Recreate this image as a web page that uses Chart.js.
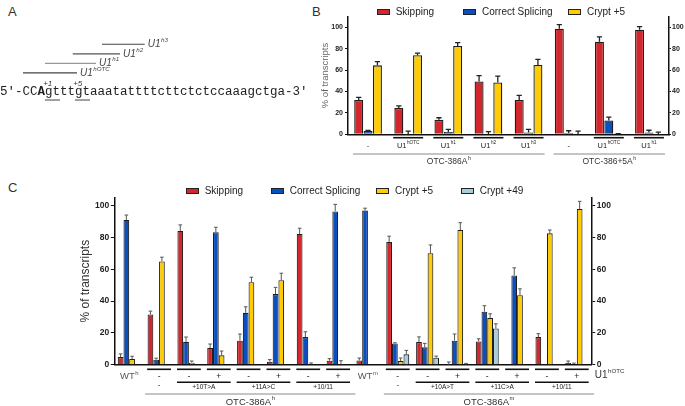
<!DOCTYPE html>
<html><head><meta charset="utf-8">
<script src="https://cdn.jsdelivr.net/npm/chart.js@4.4.1/dist/chart.umd.min.js"></script>
<style>
html,body{margin:0;padding:0;background:#fff}
body{position:relative;width:685px;height:406px;overflow:hidden;font-family:"Liberation Sans",Arial,sans-serif}
canvas{position:absolute}
.pl{position:absolute;font-size:13px;color:#333;line-height:1}
.lg{position:absolute;display:flex;align-items:center;font-size:10px;color:#222;white-space:nowrap;line-height:1}
.lg i{display:inline-block;box-sizing:border-box;border:1px solid #222;margin-right:6px;width:13px;height:6px}
</style></head><body>
<div class="pl" style="left:8px;top:5px">A</div>
<div class="pl" style="left:312px;top:5px">B</div>
<div class="pl" style="left:8px;top:181px">C</div>
<canvas id="cA" width="330" height="80" style="left:0;top:30px"></canvas>
<canvas id="cB" width="385" height="172" style="left:300px;top:0"></canvas>
<canvas id="cC" width="625" height="226" style="left:60px;top:180px"></canvas>
<script>
// ---------- DATA ----------
// Panel A
const sequence = Array.from('5′-CCAgtttgtaaatattttcttctctccaaagctga-3′');
const boldIndex = 5;
const siteLabels = ['+1', '+5'];
const siteChars = [6, 10];
const u1Names = ['U1^hOTC', 'U1^h1', 'U1^h2', 'U1^h3'];
const u1Start = [3.07, 6.0, 9.7, 13.6];
const u1End = [10.27, 12.8, 16.0, 19.3];

// Series
const seriesNames = ['Skipping', 'Correct Splicing', 'Crypt +5', 'Crypt +49'];
const seriesColors = ['#d3262d', '#0b4fbf', '#ffcb05', '#a6cfdc'];

// Panel B
const bCategories = ['-', 'U1^hOTC', 'U1^h1', 'U1^h2', 'U1^h3', '-', 'U1^hOTC', 'U1^h1'];
const bUnderlined = [false, true, true, true, true, false, true, true];
const bConstructs = ['OTC-386A^h', 'OTC-386+5A^h'];
const bConstructSpans = [[0, 4], [5, 7]];
const bSkipping = [32, 24.5, 13.5, 49.5, 32, 98.7, 86.5, 97.8];
const bSkippingErr = [2.5, 2, 2, 5.3, 4.4, 3.8, 4.7, 3];
const bCorrect = [3.1, 0, 2.2, 0, 1.6, 1.3, 12.9, 1.6];
const bCorrectErr = [0.6, 3, 2.5, 2.5, 3, 2, 3.2, 2.2];
const bCrypt5 = [64.5, 74, 82.7, 48.4, 64.8, 0, 0.3, 0];
const bCrypt5Err = [3.5, 2, 3, 6, 5.3, 3, 0.3, 2];
const bTicks = [0, 20, 40, 60, 80, 100];

// Panel C
const cRow1 = ['WT^h', '-', '-', '+', '-', '+', '-', '+', 'WT^m', '-', '-', '+', '-', '+', '-', '+'];
const cMutLabels = ['-', '+10T>A', '+11A>C', '+10/11', '-', '+10A>T', '+11C>A', '+10/11'];
const cMutSpans = [[1, 1], [2, 3], [4, 5], [6, 7], [9, 9], [10, 11], [12, 13], [14, 15]];
const cConstructs = ['OTC-386A^h', 'OTC-386A^m'];
const cConstructSpans = [[1, 7], [9, 15]];
const cRowTitle = 'U1^hOTC';
const cSkipping = [4.8, 31.6, 84.1, 10.5, 15.1, 1.9, 82.2, 2.5, 2.7, 77.2, 14.2, 0, 14.6, 0, 17.4, 1];
const cSkippingErr = [2, 2.1, 3.8, 2.5, 4.2, 1.3, 3.6, 1.3, 1.5, 3.6, 3.3, 1.7, 1.7, 0, 2.1, 1.3];
const cCorrect = [91, 3.1, 14.4, 83.3, 32.6, 44.4, 17.4, 96.4, 96.9, 13.4, 10.9, 15.1, 33.3, 56.1, 0, 0.5];
const cCorrectErr = [3.1, 1, 3, 3.1, 3.8, 4.2, 3.3, 4.4, 1.5, 0.4, 2.5, 4.2, 3.8, 4.8, 0, 0.5];
const cCrypt5 = [3.6, 64.9, 1.3, 5.9, 51.9, 53.1, 0.3, 0.5, 0, 2.3, 70.1, 84.7, 29.3, 43.7, 82.6, 97.9];
const cCrypt5Err = [1.7, 2.7, 1, 2.7, 3.1, 4.4, 0.8, 2, 0, 1.9, 5.2, 4.6, 2.7, 4, 2.1, 4.8];
const cCrypt49 = [0, 0, 0, 0, 0, 0, 0, 0, 0, 6.5, 4.4, 0, 22.8, 0, 0, 0.2];
const cCrypt49Err = [0, 0, 0, 0, 0, 0, 0, 0, 0, 2.5, 1, 0.8, 2.9, 0, 0, 0];
const cTicks = [0, 20, 40, 60, 80, 100];

// ---------- HELPERS ----------
const FAM = '"Liberation Sans", Arial, sans-serif';
Chart.defaults.font.family = FAM;
function drawRich(ctx, t, x, y, size, align, opt) {
  opt = opt || {};
  const k = t.indexOf('^');
  const m = k < 0 ? t : t.slice(0, k), s = k < 0 ? '' : t.slice(k + 1);
  const fam = opt.family || FAM;
  const st = (opt.italic ? 'italic ' : '') + (opt.bold ? 'bold ' : '');
  const ss = size * 0.62;
  ctx.font = st + size + 'px ' + fam; const wm = ctx.measureText(m).width;
  ctx.font = st + ss + 'px ' + fam; const ws = s ? ctx.measureText(s).width + 0.5 : 0;
  const w = wm + ws;
  const x0 = align === 'center' ? x - w / 2 : align === 'right' ? x - w : x;
  ctx.textAlign = 'left'; ctx.textBaseline = 'middle'; ctx.fillStyle = opt.color || '#222';
  ctx.font = st + size + 'px ' + fam; ctx.fillText(m, x0, y);
  if (s) { ctx.font = st + ss + 'px ' + fam; ctx.fillText(s, x0 + wm + 0.5, y - size * 0.4); }
}
function hline(ctx, x0, x1, y, w, c) {
  ctx.beginPath(); ctx.strokeStyle = c; ctx.lineWidth = w; ctx.moveTo(x0, y); ctx.lineTo(x1, y); ctx.stroke();
}
function legend(top, lefts, n) {
  for (let i = 0; i < n; i++) {
    const d = document.createElement('div');
    d.className = 'lg'; d.style.left = lefts[i] + 'px'; d.style.top = top + 'px';
    d.innerHTML = '<i style="background:' + seriesColors[i] + '"></i><span>' + seriesNames[i] + '</span>';
    document.body.appendChild(d);
  }
}
const errorBarPlugin = {
  id: 'errbars',
  afterDatasetsDraw(chart, args, opts) {
    const ctx = chart.ctx, ys = chart.scales.y;
    ctx.save(); ctx.strokeStyle = opts.color; ctx.lineWidth = opts.width;
    chart.data.datasets.forEach((ds, di) => {
      const meta = chart.getDatasetMeta(di);
      meta.data.forEach((bar, i) => {
        const e = opts.errors[di][i]; if (!e) return;
        const v = ds.data[i];
        const y0 = ys.getPixelForValue(v), y1 = ys.getPixelForValue(v + e);
        const hw = Math.min(opts.cap, bar.width * 0.45);
        ctx.beginPath(); ctx.moveTo(bar.x, y0); ctx.lineTo(bar.x, y1);
        ctx.moveTo(bar.x - hw, y1); ctx.lineTo(bar.x + hw, y1); ctx.stroke();
      });
    });
    ctx.restore();
  }
};
function setTicks(list) { return s => { s.ticks = list.map(v => ({ value: v })); }; }

// ---------- PANEL A ----------
const seqPlugin = {
  id: 'seq',
  afterDraw(chart) {
    const { ctx, scales: { x, y } } = chart;
    ctx.save();
    const yc = y.getPixelForValue(-1);
    ctx.textBaseline = 'middle'; ctx.textAlign = 'left'; ctx.fillStyle = '#222';
    sequence.forEach((ch, i) => {
      ctx.font = (i === boldIndex ? 'bold ' : '') + '12.5px "Liberation Mono", monospace';
      ctx.fillText(ch, x.getPixelForValue(i), yc);
    });
    siteChars.forEach((c, k) => {
      hline(ctx, x.getPixelForValue(c), x.getPixelForValue(c + 2), yc + 8, 1, '#444');
      drawRich(ctx, siteLabels[k], x.getPixelForValue(c + 0.5) - 1, y.getPixelForValue(-0.1), 8, 'center', { italic: true, color: '#333' });
    });
    u1Names.forEach((n, i) => {
      drawRich(ctx, n, x.getPixelForValue(u1End[i]) + 3, y.getPixelForValue(i + 1), 10, 'left', { italic: true, color: '#444' });
    });
    ctx.restore();
  }
};
const lineColorsA = ['#444', '#999', '#555', '#444'];
new Chart(document.getElementById('cA'), {
  type: 'scatter',
  data: {
    datasets: u1Names.map((n, i) => ({
      label: n, data: [{ x: u1Start[i], y: i + 1 }, { x: u1End[i], y: i + 1 }],
      showLine: true, pointRadius: 0, borderColor: lineColorsA[i], borderWidth: 1.2
    }))
  },
  options: {
    responsive: false, animation: false, devicePixelRatio: 1,
    layout: { padding: { left: 0, right: 22.5, top: 0, bottom: 0 } },
    plugins: { legend: { display: false }, tooltip: { enabled: false } },
    scales: { x: { type: 'linear', min: 0, max: 41, display: false }, y: { min: -2.88, max: 5.49, display: false } }
  },
  plugins: [seqPlugin]
});

// ---------- PANEL B ----------
legend(7, [376.7, 463, 568], 3);
const bLabelPlugin = {
  id: 'bLabels',
  afterDraw(chart) {
    const { ctx, chartArea: a, scales: { x } } = chart;
    const cw = (a.right - a.left) / bCategories.length;
    ctx.save();
    bCategories.forEach((lab, i) => {
      const cx = x.getPixelForValue(i);
      if (bUnderlined[i]) hline(ctx, cx - 15, cx + 15, a.bottom + 3.4, 1.6, '#111');
      drawRich(ctx, lab, cx, a.bottom + 11.5, 7.5, 'center', { color: '#222' });
    });
    bConstructs.forEach((lab, k) => {
      const [f, t] = bConstructSpans[k];
      const x0 = x.getPixelForValue(f) - cw / 2 + 5, x1 = x.getPixelForValue(t) + cw / 2 - 4;
      hline(ctx, x0, x1, a.bottom + 19.7, 1, '#8a8a8a');
      drawRich(ctx, lab, (x0 + x1) / 2, a.bottom + 27.5, 8.5, 'center', { color: '#333' });
    });
    ctx.restore();
  }
};
const yAxisB = (pos, w) => ({
  position: pos, min: 0, max: 110,
  ticks: { stepSize: 20, includeBounds: false, autoSkip: false, font: { size: 7, weight: 'bold' }, color: '#222', padding: pos === 'left' ? 2 : 1 },
  grid: { drawOnChartArea: false, tickLength: pos === 'left' ? 3 : 2, color: '#111', lineWidth: 1 },
  border: { color: '#111', width: 1.5 },
  afterBuildTicks: setTicks(bTicks),
  afterFit(s) { s.width = w; }
});
const yB = yAxisB('left', 48);
yB.title = { display: true, text: '% of transcripts', color: '#666', font: { size: 9.5 }, padding: { top: 19.3, bottom: 0 } };
new Chart(document.getElementById('cB'), {
  type: 'bar',
  data: {
    labels: bCategories,
    datasets: [bSkipping, bCorrect, bCrypt5].map((d, i) => ({ label: seriesNames[i], data: d, backgroundColor: seriesColors[i] }))
  },
  options: {
    responsive: false, animation: false, devicePixelRatio: 1,
    layout: { padding: { top: 16.7, left: 0, right: 0, bottom: 37.7 } },
    datasets: { bar: { categoryPercentage: 0.7, barPercentage: 0.96, borderColor: '#1e1e1e', borderWidth: 1.3 } },
    plugins: { legend: { display: false }, tooltip: { enabled: false },
      errbars: { errors: [bSkippingErr, bCorrectErr, bCrypt5Err], cap: 2.6, width: 1.3, color: '#222' } },
    scales: {
      x: { ticks: { display: false }, grid: { display: false }, border: { display: true, color: '#111', width: 1.5 }, afterFit(s) { s.height = 0; } },
      y: yB,
      y2: yAxisB('right', 16)
    }
  },
  plugins: [errorBarPlugin, bLabelPlugin]
});

// ---------- PANEL C ----------
legend(186, [185.7, 270.7, 376, 460.7], 4);
const cLabelPlugin = {
  id: 'cLabels',
  afterDraw(chart) {
    const { ctx, chartArea: a, scales: { x } } = chart;
    const cw = (a.right - a.left) / cRow1.length;
    ctx.save();
    cRow1.forEach((lab, i) => {
      const cx = x.getPixelForValue(i);
      if (lab.startsWith('WT')) drawRich(ctx, lab, cx, a.bottom + 12, 9.5, 'center', { color: '#555' });
      else {
        hline(ctx, cx - cw / 2 + 3, cx + cw / 2 - 3, a.bottom + 4.6, 1.6, '#111');
        drawRich(ctx, lab, cx, a.bottom + 11.5, 8.5, 'center', { color: '#222' });
      }
    });
    cMutLabels.forEach((lab, k) => {
      const [f, t] = cMutSpans[k];
      const x0 = x.getPixelForValue(f) - cw / 2 + 3, x1 = x.getPixelForValue(t) + cw / 2 - 3;
      if (t > f) {
        hline(ctx, x0, x1, a.bottom + 17.6, 1.6, '#111');
        drawRich(ctx, lab, (x0 + x1) / 2, a.bottom + 23, 6.5, 'center', { color: '#222' });
      } else drawRich(ctx, lab, (x0 + x1) / 2, a.bottom + 20.5, 8, 'center', { color: '#222' });
    });
    cConstructs.forEach((lab, k) => {
      const [f, t] = cConstructSpans[k];
      const x0 = x.getPixelForValue(f) - cw / 2 + 1, x1 = x.getPixelForValue(t) + cw / 2 + 2.5;
      hline(ctx, x0, x1, a.bottom + 29.3, 1, '#8a8a8a');
      drawRich(ctx, lab, (x0 + x1) / 2, a.bottom + 37.5, 9.5, 'center', { color: '#333' });
    });
    drawRich(ctx, cRowTitle, a.right + 3, a.bottom + 11, 10, 'left', { color: '#333' });
    ctx.restore();
  }
};
const yAxisC = (pos, w) => ({
  position: pos, min: 0, max: 105,
  ticks: { stepSize: 20, includeBounds: false, autoSkip: false, font: { size: 8.5, weight: 'bold' }, color: '#222', padding: 1.5 },
  grid: { drawOnChartArea: false, tickLength: 3.5, color: '#111', lineWidth: 1 },
  border: { color: '#111', width: 1.5 },
  afterBuildTicks: setTicks(cTicks),
  afterFit(s) { s.width = w; }
});
const yC = yAxisC('left', 54.3);
yC.title = { display: true, text: '% of transcripts', color: '#333', font: { size: 12 }, padding: { top: 18.8, bottom: 0 } };
new Chart(document.getElementById('cC'), {
  type: 'bar',
  data: {
    labels: cRow1,
    datasets: [cSkipping, cCorrect, cCrypt5, cCrypt49].map((d, i) => ({ label: seriesNames[i], data: d, backgroundColor: seriesColors[i] }))
  },
  options: {
    responsive: false, animation: false, devicePixelRatio: 1,
    layout: { padding: { top: 17.7, left: 0, right: 68.3, bottom: 41.3 } },
    datasets: { bar: { categoryPercentage: 0.77, barPercentage: 1, borderColor: '#1e1e1e', borderWidth: 1.1 } },
    plugins: { legend: { display: false }, tooltip: { enabled: false },
      errbars: { errors: [cSkippingErr, cCorrectErr, cCrypt5Err, cCrypt49Err], cap: 1.8, width: 1, color: '#555' } },
    scales: {
      x: { ticks: { display: false }, grid: { display: false }, border: { display: true, color: '#111', width: 1.5 }, afterFit(s) { s.height = 0; } },
      y: yC,
      y2: yAxisC('right', 25)
    }
  },
  plugins: [errorBarPlugin, cLabelPlugin]
});
</script>
</body></html>
